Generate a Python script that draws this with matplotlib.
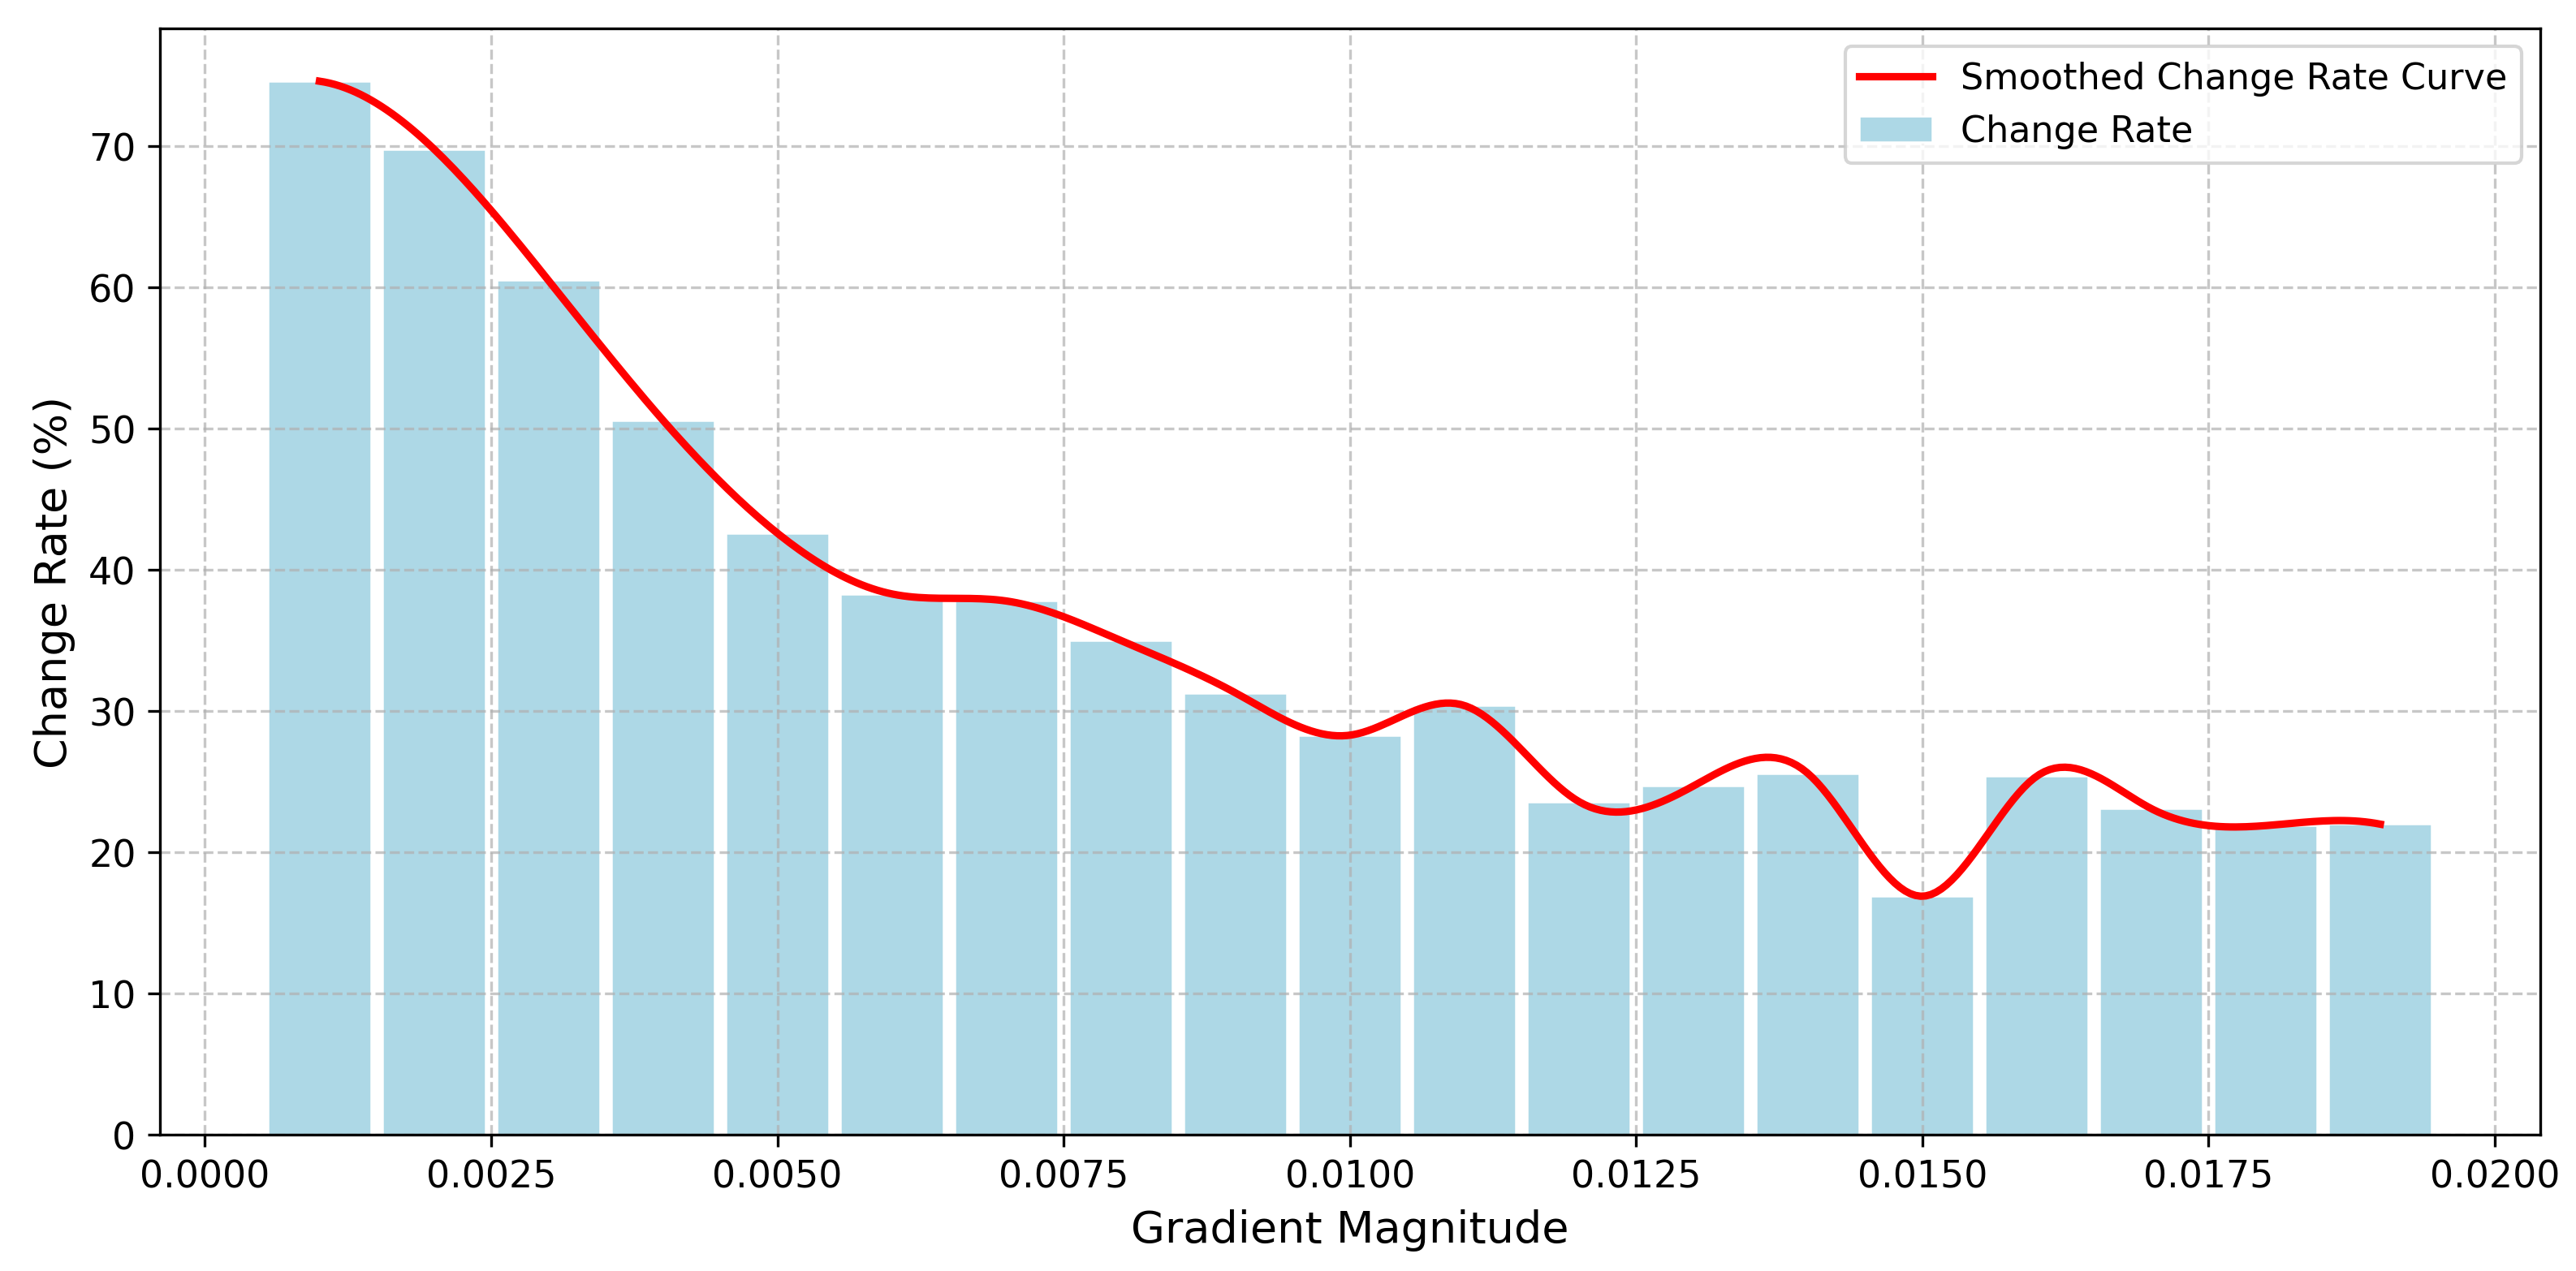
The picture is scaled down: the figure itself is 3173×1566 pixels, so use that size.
import numpy as np
import matplotlib
matplotlib.use("Agg")
import matplotlib.pyplot as plt

# bin centres and change rate per bin (%)
grad_mag = [0.001, 0.002, 0.003, 0.004, 0.005, 0.006, 0.007, 0.008, 0.009, 0.010,
            0.011, 0.012, 0.013, 0.014, 0.015, 0.016, 0.017, 0.018, 0.019]
change_rate = [74.6, 69.8, 60.5, 50.6, 42.6, 38.3, 37.8, 35.0, 31.3, 28.3,
               30.4, 23.6, 24.7, 25.6, 16.9, 25.4, 23.1, 21.9, 22.0]


def cubic_spline(x, y, xs):
    # not-a-knot cubic spline (like scipy make_interp_spline k=3)
    x = np.asarray(x, float)
    y = np.asarray(y, float)
    n = len(x)
    h = np.diff(x)
    A = np.zeros((n, n))
    b = np.zeros(n)
    for i in range(1, n - 1):
        A[i, i - 1] = h[i - 1]
        A[i, i] = 2 * (h[i - 1] + h[i])
        A[i, i + 1] = h[i]
        b[i] = 6 * ((y[i + 1] - y[i]) / h[i] - (y[i] - y[i - 1]) / h[i - 1])
    A[0, 0], A[0, 1], A[0, 2] = h[1], -(h[0] + h[1]), h[0]
    A[-1, -3], A[-1, -2], A[-1, -1] = h[-1], -(h[-2] + h[-1]), h[-2]
    M = np.linalg.solve(A, b)
    idx = np.clip(np.searchsorted(x, xs) - 1, 0, n - 2)
    x0, x1 = x[idx], x[idx + 1]
    hh = x1 - x0
    t0, t1 = x1 - xs, xs - x0
    return (M[idx] * t0 ** 3 / (6 * hh) + M[idx + 1] * t1 ** 3 / (6 * hh)
            + (y[idx] / hh - M[idx] * hh / 6) * t0
            + (y[idx + 1] / hh - M[idx + 1] * hh / 6) * t1)


x_smooth = np.linspace(min(grad_mag), max(grad_mag), 400)
y_smooth = cubic_spline(grad_mag, change_rate, x_smooth)

fig, ax = plt.subplots(figsize=(10.577, 5.223), dpi=300)
fig.subplots_adjust(left=0.062, right=0.986, top=0.977, bottom=0.107)

ax.bar(grad_mag, change_rate, width=0.0009, color='lightblue', edgecolor='white',
       linewidth=0.6, label='Change Rate')
ax.plot(x_smooth, y_smooth, color='red', lw=2.2, label='Smoothed Change Rate Curve')

ax.set_xlabel('Gradient Magnitude', fontsize=13)
ax.set_ylabel('Change Rate (%)', fontsize=13)
ax.tick_params(labelsize=11)
ax.grid(True, linestyle='--', alpha=0.7)
ax.legend(fontsize=10.7, loc='upper right')

plt.savefig('out.png', dpi=300)
